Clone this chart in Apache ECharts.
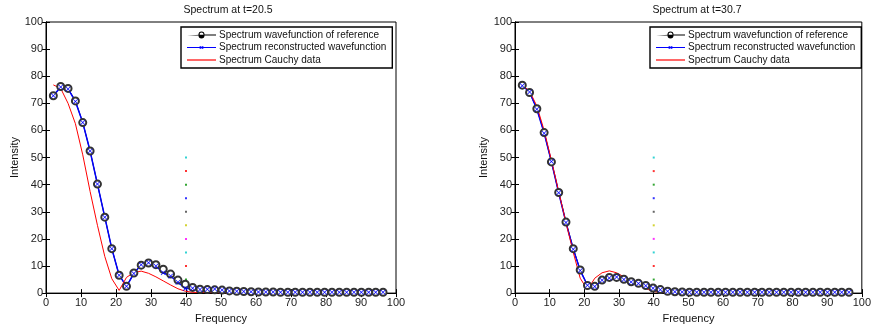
<!DOCTYPE html>
<html>
<head>
<meta charset="utf-8">
<script src="https://cdn.jsdelivr.net/npm/echarts@6/dist/echarts.min.js"></script>
<style>
  html, body { margin: 0; padding: 0; background: #fff; }
  #chart { width: 874px; height: 329px; }
</style>
</head>
<body>
<div id="chart"></div>
<script>
// frequency grid shared by every curve
const freq = [2.1, 4.2, 6.3, 8.4, 10.5, 12.6, 14.7, 16.8, 18.8, 20.9, 23.0, 25.1, 27.2, 29.3, 31.4, 33.5,
    35.6, 37.7, 39.8, 41.9, 44.0, 46.1, 48.2, 50.3, 52.4, 54.5, 56.5, 58.6, 60.7, 62.8, 64.9, 67.0,
    69.1, 71.2, 73.3, 75.4, 77.5, 79.6, 81.7, 83.8, 85.9, 88.0, 90.1, 92.2, 94.2, 96.3];

// t = 20.5
const refLeft = [72.8, 76.2, 75.5, 70.9, 62.9, 52.4, 40.2, 28.0, 16.4, 6.6, 2.5, 7.4, 10.3, 11.1, 10.5, 8.8,
    7.0, 4.8, 3.3, 2.1, 1.4, 1.3, 1.2, 1.1, 0.8, 0.7, 0.6, 0.5, 0.4, 0.4, 0.4, 0.3,
    0.3, 0.3, 0.3, 0.3, 0.3, 0.3, 0.3, 0.3, 0.3, 0.3, 0.3, 0.3, 0.3, 0.3];
const recLeft = [72.8, 76.0, 75.3, 70.7, 62.9, 52.4, 40.2, 28.0, 16.4, 6.6, 2.5, 7.2, 10.5, 11.2, 10.0, 7.5,
    6.3, 4.0, 1.7, 1.8, 1.3, 1.4, 1.5, 1.1, 0.8, 0.7, 0.6, 0.5, 0.4, 0.4, 0.4, 0.3,
    0.3, 0.3, 0.3, 0.3, 0.3, 0.3, 0.3, 0.3, 0.3, 0.3, 0.3, 0.3, 0.3, 0.3];
const cauchyLeft = [76.8, 75.5, 70.0, 62.5, 51.0, 37.5, 25.0, 13.5, 5.3, 1.0, 5.8, 7.6, 8.1, 7.3, 6.0, 4.5,
    3.0, 1.6, 0.7, 0.3, 0.2, 0.2, 0.1, 0.1, 0.1, 0.1, 0.1, 0.1, 0.1, 0.1, 0.1, 0.1,
    0.1, 0.1, 0.1, 0.1, 0.1, 0.1, 0.1, 0.1, 0.1, 0.1, 0.1, 0.1, 0.1, 0.1];

// t = 30.7
const refRight = [76.7, 74.0, 68.0, 59.2, 48.4, 37.1, 26.2, 16.4, 8.5, 2.8, 2.5, 4.8, 5.8, 5.8, 5.1, 4.2,
    3.6, 2.8, 1.9, 1.3, 0.7, 0.5, 0.4, 0.3, 0.3, 0.3, 0.3, 0.3, 0.3, 0.3, 0.3, 0.3,
    0.3, 0.3, 0.3, 0.3, 0.3, 0.3, 0.3, 0.3, 0.3, 0.3, 0.3, 0.3, 0.3, 0.3];
const recRight = [76.5, 74.2, 67.8, 59.0, 48.5, 37.0, 26.0, 16.2, 8.3, 2.9, 2.4, 4.7, 5.6, 5.9, 5.0, 4.1,
    3.5, 2.7, 1.8, 1.2, 0.7, 0.5, 0.4, 0.3, 0.3, 0.3, 0.3, 0.3, 0.3, 0.3, 0.3, 0.3,
    0.3, 0.3, 0.3, 0.3, 0.3, 0.3, 0.3, 0.3, 0.3, 0.3, 0.3, 0.3, 0.3, 0.3];
const cauchyRight = [76.7, 74.5, 69.0, 60.0, 49.0, 37.5, 26.0, 15.0, 5.5, 1.2, 5.5, 7.5, 8.2, 7.5, 6.0, 4.5,
    3.0, 1.7, 0.6, 0.3, 0.2, 0.2, 0.1, 0.1, 0.1, 0.1, 0.1, 0.1, 0.1, 0.1, 0.1, 0.1,
    0.1, 0.1, 0.1, 0.1, 0.1, 0.1, 0.1, 0.1, 0.1, 0.1, 0.1, 0.1, 0.1, 0.1];

// coloured dots at frequency 40
const dotX = 40;
const dotY = [50, 45, 40, 35, 30, 25, 20, 15, 10, 5];
const dotColors = ['#00c8c8', '#ff0000', '#009000', '#0000ff', '#404040', '#c8c800', '#ff00ff', '#00c8c8', '#ff0000', '#009000'];

const titles = ['Spectrum at t=20.5', 'Spectrum at t=30.7'];
const names = ['Spectrum wavefunction of reference', 'Spectrum reconstructed wavefunction', 'Spectrum Cauchy data'];

const FONT = 'Liberation Sans, Arial, Helvetica, sans-serif';
const xMarker = 'path://M0,1 L1,0 L5,4 L9,0 L10,1 L6,5 L10,9 L9,10 L5,6 L1,10 L0,9 L4,5 Z';

// legend glyphs: thin line with a small marker in the middle
const iconCircle = 'path://M0,4.6 L11.5,4.6 A3,3 0 1,1 17.5,4.6 A3,3 0 1,1 11.5,4.6 M12.5,4.6 A2,2 0 1,0 16.5,4.6 A2,2 0 1,0 12.5,4.6 M17.5,4.6 L29,4.6 L29,5.4 L17.5,5.4 A3,3 0 0,1 11.5,5.4 L0,5.4 Z';
const iconCross = 'path://M0,4.6 L12.6,4.6 L12.4,4.4 L13,3.6 L14.5,4.3 L16,3.6 L16.6,4.4 L16.4,4.6 L29,4.6 L29,5.4 L16.4,5.4 L16.6,5.6 L16,6.4 L14.5,5.7 L13,6.4 L12.4,5.6 L12.6,5.4 L0,5.4 Z';
const iconLine = 'path://M0,4.2 L29,4.2 L29,5.8 L0,5.8 Z';

const panels = [
    { left: 46, title: titles[0], ref: refLeft, rec: recLeft, cauchy: cauchyLeft },
    { left: 515, title: titles[1], ref: refRight, rec: recRight, cauchy: cauchyRight }
];

const pairs = ys => freq.map((f, i) => [f, ys[i]]);

const option = {
    animation: false,
    backgroundColor: '#fff',
    textStyle: { fontFamily: FONT },
    title: [],
    legend: [],
    grid: [],
    xAxis: [],
    yAxis: [],
    series: []
};

panels.forEach((p, gi) => {
    option.title.push({
        text: p.title,
        left: p.left + 177,
        textAlign: 'center',
        top: 0,
        textStyle: { fontSize: 10.5, fontWeight: 'normal', color: '#111', fontFamily: FONT }
    });
    option.legend.push({
        data: [
            { name: names[0], icon: iconCircle, itemStyle: { color: '#000' } },
            { name: names[1], icon: iconCross, itemStyle: { color: '#0000ff' } },
            { name: names[2], icon: iconLine, itemStyle: { color: '#ff4040' } }
        ],
        orient: 'vertical',
        left: p.left + 135,
        top: 27,
        itemWidth: 29,
        itemHeight: 10,
        itemGap: 2.5,
        padding: [3, 6, 3, 6],
        borderColor: '#000',
        borderWidth: 1.4,
        backgroundColor: '#fff',
        selectedMode: false,
        textStyle: { fontSize: 10, color: '#111', fontFamily: FONT, padding: [0, 0, 0, -2] }
    });
    option.grid.push({
        left: p.left, top: 22, width: 350, height: 276,
        show: true, borderColor: '#000', borderWidth: 1, backgroundColor: '#fff'
    });

    const tickStyle = { show: true, inside: true, length: 4, lineStyle: { color: '#000' } };
    // bottom + top x axes
    option.xAxis.push({
        type: 'value', gridIndex: gi, min: 0, max: 100, interval: 10, position: 'bottom',
        name: 'Frequency', nameLocation: 'middle', nameGap: 15,
        nameTextStyle: { fontSize: 11, color: '#111', fontFamily: FONT },
        axisLine: { show: true, onZero: false, lineStyle: { color: '#000' } },
        axisTick: tickStyle,
        axisLabel: { fontSize: 11, color: '#222', margin: 4, fontFamily: FONT },
        splitLine: { show: false }
    });
    option.xAxis.push({
        type: 'value', gridIndex: gi, min: 0, max: 100, interval: 10, position: 'top',
        axisLine: { show: true, lineStyle: { color: '#000' } },
        axisTick: tickStyle, axisLabel: { show: false }, splitLine: { show: false }
    });
    // left + right y axes
    option.yAxis.push({
        type: 'value', gridIndex: gi, min: 0, max: 100, interval: 10, position: 'left',
        name: 'Intensity', nameLocation: 'middle', nameGap: 23, nameRotate: 90,
        nameTextStyle: { fontSize: 11, color: '#111', fontFamily: FONT },
        axisLine: { show: true, onZero: false, lineStyle: { color: '#000' } },
        axisTick: tickStyle,
        axisLabel: { fontSize: 11, color: '#222', margin: 3, fontFamily: FONT },
        splitLine: { show: false }
    });
    option.yAxis.push({
        type: 'value', gridIndex: gi, min: 0, max: 100, interval: 10, position: 'right',
        axisLine: { show: true, lineStyle: { color: '#000' } },
        axisTick: tickStyle, axisLabel: { show: false }, splitLine: { show: false }
    });

    const xi = gi * 2, yi = gi * 2;
    option.series.push({
        name: names[0], type: 'line', xAxisIndex: xi, yAxisIndex: yi,
        data: pairs(p.ref),
        symbol: 'emptyCircle', symbolSize: 7,
        itemStyle: { color: '#333', borderWidth: 0.8 },
        lineStyle: { color: '#000', width: 1 }
    });
    option.series.push({
        name: names[1], type: 'line', xAxisIndex: xi, yAxisIndex: yi,
        data: pairs(p.rec),
        symbol: xMarker, symbolSize: 5,
        itemStyle: { color: '#0000ff' },
        lineStyle: { color: '#0000ff', width: 1.5 }
    });
    option.series.push({
        name: names[2], type: 'line', xAxisIndex: xi, yAxisIndex: yi,
        data: pairs(p.cauchy),
        showSymbol: false, symbol: 'none',
        itemStyle: { color: '#ff0000' },
        lineStyle: { color: '#ff0000', width: 1 }
    });
    option.series.push({
        type: 'scatter', xAxisIndex: xi, yAxisIndex: yi,
        data: dotY.map((y, i) => ({ value: [dotX, y], itemStyle: { color: dotColors[i] } })),
        symbol: 'rect', symbolSize: 2
    });
});

const chart = echarts.init(document.getElementById('chart'), null, { renderer: 'canvas' });
chart.setOption(option);
</script>
</body>
</html>
